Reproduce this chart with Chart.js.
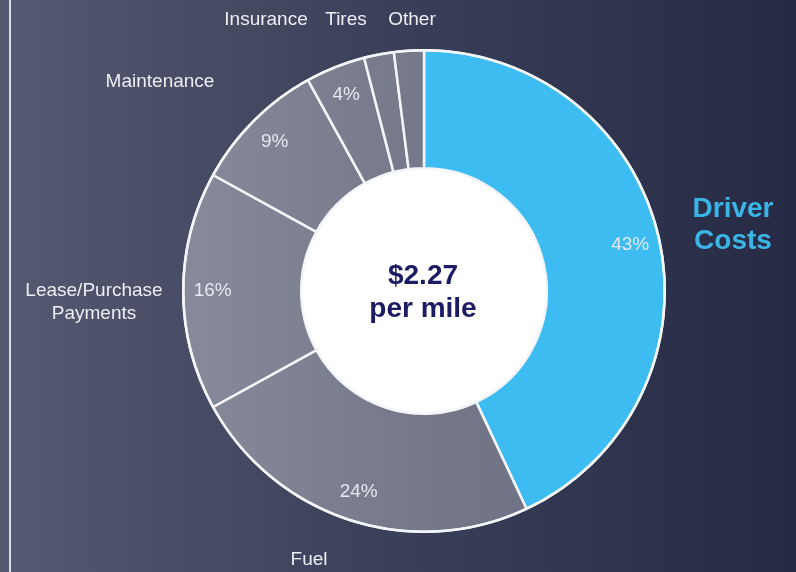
<!DOCTYPE html>
<html>
<head>
<meta charset="utf-8">
<script src="https://cdn.jsdelivr.net/npm/chart.js@4"></script>
<style>
  html, body { margin: 0; padding: 0; }
  body {
    width: 796px; height: 572px; overflow: hidden; position: relative;
    background: linear-gradient(90deg, #545a71 0%, #4a4f67 20%, #3d425c 45%, #30354f 75%, #262a45 100%);
  }
  .rule { position: absolute; left: 9px; top: 0; width: 2px; height: 572px; background: #d9dbe3; }
  #wrap { position: absolute; left: 0; top: 0; width: 796px; height: 572px; }
</style>
</head>
<body>
<div class="rule"></div>
<div id="wrap"><canvas id="costChart"></canvas></div>
<script>
const categories = ['Driver Costs', 'Fuel', 'Lease/Purchase Payments', 'Maintenance', 'Insurance', 'Tires', 'Other'];
const shares     = [43, 24, 16, 9, 4, 2, 2];
const pctLabels  = ['43%', '24%', '16%', '9%', '4%', '', ''];
const centerText = ['$2.27', 'per mile'];

const BLUE = '#3dbcf1';
const LABEL_FONT = '"Liberation Sans", Arial, sans-serif';

// category names sit outside the ring, placed by hand like the slide
const outsideLabels = [
    { text: ['Driver', 'Costs'], x: 733, y: 225, color: '#3bb4e6', bold: true, size: 28, lh: 32 },
    { text: ['Fuel'], x: 309, y: 560 },
    { text: ['Lease/Purchase', 'Payments'], x: 94, y: 302, lh: 23 },
    { text: ['Maintenance'], x: 160, y: 82 },
    { text: ['Insurance'], x: 266, y: 20 },
    { text: ['Tires'], x: 346, y: 20 },
    { text: ['Other'], x: 412, y: 20 }
];

function grayFill(ctx) {
    const area = ctx.chart.chartArea;
    if (!area) return '#737788';
    const g = ctx.chart.ctx.createLinearGradient(area.left, 0, area.right, 0);
    g.addColorStop(0, '#878a9a');
    g.addColorStop(0.5, '#747889');
    g.addColorStop(1, '#6a6e80');
    return g;
}

const ringDecor = {
    id: 'ringDecor',
    beforeDatasetsDraw(chart) {
        const arc = chart.getDatasetMeta(0).data[0];
        if (!arc) return;
        const { x, y, innerRadius } = arc.getProps(['x', 'y', 'innerRadius'], true);
        const c = chart.ctx;
        c.save();
        c.fillStyle = '#ffffff';
        c.beginPath();
        c.arc(x, y, innerRadius + 1, 0, Math.PI * 2);
        c.fill();
        c.restore();
    },
    afterDatasetsDraw(chart) {
        const meta = chart.getDatasetMeta(0);
        const first = meta.data[0];
        const { x, y, outerRadius } = first.getProps(['x', 'y', 'outerRadius'], true);
        const c = chart.ctx;
        c.save();
        c.strokeStyle = '#f4f5f8';
        c.lineWidth = 2.5;
        c.beginPath();
        c.arc(x, y, outerRadius, 0, Math.PI * 2);
        c.stroke();

        // percentages inside the slices
        c.font = '19px ' + LABEL_FONT;
        c.textAlign = 'center';
        c.textBaseline = 'middle';
        meta.data.forEach((a, i) => {
            if (!pctLabels[i]) return;
            const p = a.getProps(['startAngle', 'endAngle', 'innerRadius', 'outerRadius'], true);
            const mid = (p.startAngle + p.endAngle) / 2;
            const r = p.innerRadius + (p.outerRadius - p.innerRadius) * 0.75;
            c.fillStyle = '#e6e8ef';
            c.fillText(pctLabels[i], x + Math.cos(mid) * r, y + Math.sin(mid) * r);
        });

        // center caption
        c.fillStyle = '#1b1c63';
        c.font = 'bold 28px ' + LABEL_FONT;
        c.fillText(centerText[0], x - 1, y - 15);
        c.fillText(centerText[1], x - 1, y + 18);

        // outside category labels
        outsideLabels.forEach(l => {
            const size = l.size || 19;
            c.font = (l.bold ? 'bold ' : '') + size + 'px ' + LABEL_FONT;
            c.fillStyle = l.color || '#eceef3';
            const lh = l.lh || 0;
            const top = l.y - (l.text.length - 1) * lh / 2;
            l.text.forEach((t, k) => c.fillText(t, l.x, top + k * lh));
        });
        c.restore();
    }
};

new Chart(document.getElementById('costChart'), {
    type: 'doughnut',
    data: {
        labels: categories,
        datasets: [{
            data: shares,
            backgroundColor: (ctx) => ctx.dataIndex === 0 ? BLUE : grayFill(ctx),
            borderColor: '#f4f5f8',
            borderWidth: 2.5,
            borderAlign: 'center'
        }]
    },
    options: {
        responsive: true,
        maintainAspectRatio: false,
        animation: false,
        cutout: '51%',
        layout: { padding: { top: 49, bottom: 39, left: 182, right: 130 } },
        plugins: {
            legend: { display: false },
            tooltip: { enabled: false }
        }
    },
    plugins: [ringDecor]
});
</script>
</body>
</html>
